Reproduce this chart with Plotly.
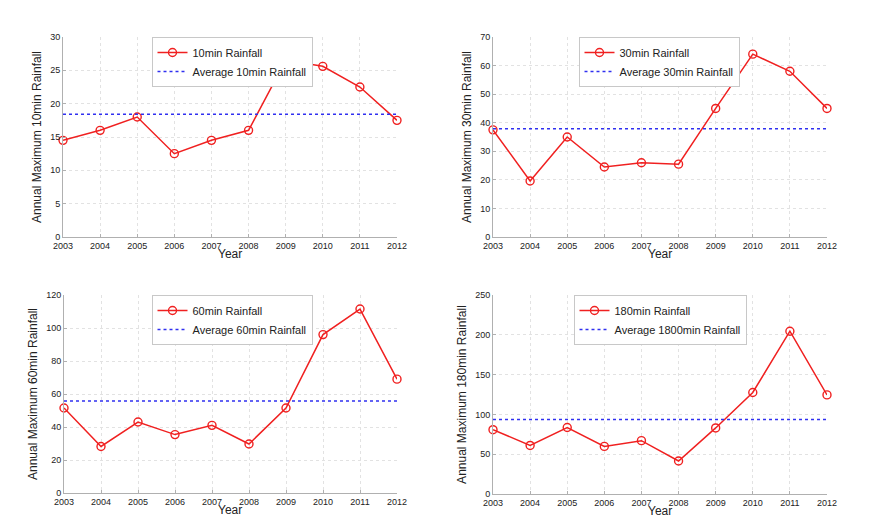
import plotly.graph_objects as go

years = [2003, 2004, 2005, 2006, 2007, 2008, 2009, 2010, 2011, 2012]

rain10 = [14.5, 16.0, 18.0, 12.5, 14.5, 16.0, 26.5, 25.6, 22.5, 17.5]
avg10 = 18.4
rain30 = [37.5, 19.6, 35.0, 24.5, 26.0, 25.5, 45.0, 64.0, 58.0, 45.0]
avg30 = 37.9
rain60 = [51.5, 28.2, 43.0, 35.4, 41.0, 29.7, 51.5, 96.0, 111.5, 69.0]
avg60 = 55.7
rain180 = [80.8, 61.0, 83.5, 59.8, 67.0, 41.5, 83.0, 127.5, 204.5, 124.5]
avg180 = 93.6

series_names = ["10min Rainfall", "30min Rainfall", "60min Rainfall", "180min Rainfall"]
avg_names = ["Average 10min Rainfall", "Average 30min Rainfall",
             "Average 60min Rainfall", "Average 1800min Rainfall"]
y_titles = ["Annual Maximum 10min Rainfall", "Annual Maximum 30min Rainfall",
            "Annual Maximum 60min Rainfall", "Annual Maximum 180min Rainfall"]
y_max = [30, 70, 120, 250]
y_dtick = [5, 10, 20, 50]

series = [rain10, rain30, rain60, rain180]
avgs = [avg10, avg30, avg60, avg180]

# the page body adds an 8px offset; the figure fills the rest of the 879x528 window
OFF = 8
W, H = 879 - OFF, 528 - OFF
# pixel boxes of the plot areas in window pixels: (left, right, top, bottom)
boxes = [(63, 397, 37, 237), (493, 827, 37, 237),
         (64, 397, 295, 493), (493, 827, 295, 494)]
legend_centers = [232, 659, 232, 660]

fig = go.Figure()
FONT = "Liberation Sans, Arial, sans-serif"

for i in range(4):
    xa = "x" if i == 0 else f"x{i+1}"
    ya = "y" if i == 0 else f"y{i+1}"
    lg = "legend" if i == 0 else f"legend{i+1}"
    fig.add_trace(go.Scatter(
        x=years, y=series[i], mode="lines+markers", name=series_names[i],
        line=dict(color="#f02020", width=1.5), cliponaxis=False,
        marker=dict(symbol="circle-open", size=8, color="#f02020", line=dict(width=1.4)),
        xaxis=xa, yaxis=ya, legend=lg))
    fig.add_trace(go.Scatter(
        x=[years[0], years[-1]], y=[avgs[i], avgs[i]], mode="lines", name=avg_names[i],
        line=dict(color="#3030f0", width=1.5, dash="dot"),
        xaxis=xa, yaxis=ya, legend=lg))

layout = dict(width=W, height=H, margin=dict(l=0, r=0, t=0, b=0, autoexpand=False),
              paper_bgcolor="white", plot_bgcolor="white", showlegend=True,
              font=dict(family=FONT, color="#222"))

annotations = []
for i in range(4):
    l, r, t, b = [v - OFF for v in boxes[i]]
    xk = "xaxis" if i == 0 else f"xaxis{i+1}"
    yk = "yaxis" if i == 0 else f"yaxis{i+1}"
    lk = "legend" if i == 0 else f"legend{i+1}"
    ya_ref = "y" if i == 0 else f"y{i+1}"
    xa_ref = "x" if i == 0 else f"x{i+1}"
    layout[xk] = dict(domain=[l / W, r / W], anchor=ya_ref, range=[2003, 2012],
                      automargin=False,
                      tickmode="array", tickvals=years, ticktext=[str(y) for y in years],
                      showgrid=True, gridcolor="#e2e2e2", griddash="dot", gridwidth=1,
                      showline=True, linecolor="#b0b0b0", linewidth=1, mirror=False,
                      ticks="inside", ticklen=3, tickcolor="#b0b0b0",
                      tickfont=dict(size=9, color="#222"), zeroline=False)
    layout[yk] = dict(domain=[1 - b / H, 1 - t / H], anchor=xa_ref, range=[0, y_max[i]],
                      automargin=False, dtick=y_dtick[i], tick0=0,
                      showgrid=True, gridcolor="#e2e2e2", griddash="dot", gridwidth=1,
                      showline=True, linecolor="#b0b0b0", linewidth=1,
                      ticks="inside", ticklen=3, tickcolor="#b0b0b0",
                      tickfont=dict(size=9, color="#222"), zeroline=False,
                      title=dict(text=y_titles[i], font=dict(size=12, color="#222"), standoff=5))
    layout[lk] = dict(x=legend_centers[i] / W - OFF / W, xanchor="center",
                      y=1 - t / H, yanchor="top",
                      bgcolor="white", bordercolor="#c8c8c8", borderwidth=1,
                      font=dict(size=11, color="#222"), itemwidth=30,
                      tracegroupgap=0)
    annotations.append(dict(text="Year", xref="paper", yref="paper",
                            x=(l + r) / 2 / W, y=1 - (b + 17) / H,
                            xanchor="center", yanchor="middle", showarrow=False,
                            font=dict(size=12, color="#222")))

layout["annotations"] = annotations
fig.update_layout(**layout)
fig.write_html("out.html")
